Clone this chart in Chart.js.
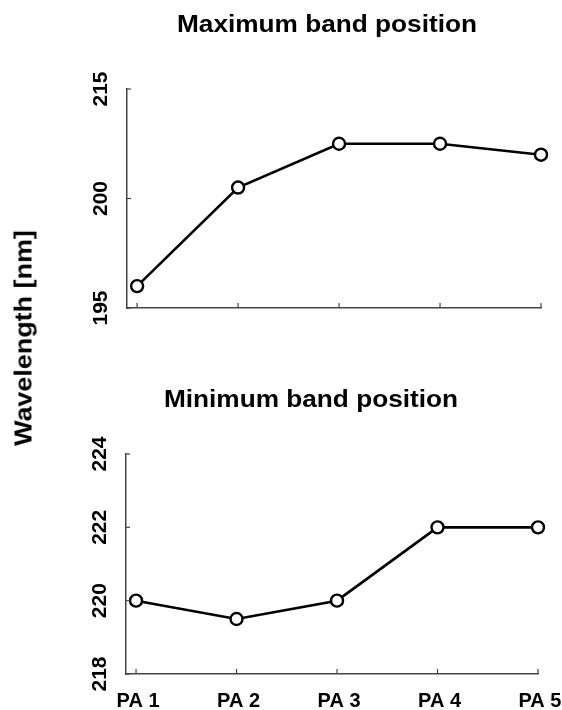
<!DOCTYPE html>
<html lang="en">
<head>
  <meta charset="UTF-8">
  <title>Band positions</title>
  <script src="https://cdn.jsdelivr.net/npm/chart.js"></script>
  <style>
    body {
      margin: 0;
      background: #fff;
      font-family: 'Liberation Sans', Arial, sans-serif;
    }
    .wrap {
      position: relative;
      width: 562px;
      height: 710px;
      overflow: hidden;
    }
    canvas {
      position: absolute;
      left: 0;
    }
    .title, .ylab {
      position: absolute;
      font-weight: bold;
      font-size: 23px;
      line-height: 23px;
      white-space: nowrap;
      color: #000;
    }
    .title {
      transform: translateX(-50%) scaleX(1.14);
    }
    .ylab {
      left: 24px;
      top: 338px;
      transform: translate(-50%, -50%) rotate(-90deg) scaleX(1.17);
    }
  </style>
</head>
<body>
  <div class="wrap">
    <canvas id="maxChart" width="562" height="340" style="top:0"></canvas>
    <canvas id="minChart" width="562" height="370" style="top:340px"></canvas>
    <div class="title" style="left:327px; top:13px">Maximum band position</div>
    <div class="title" style="left:311px; top:388px">Minimum band position</div>
    <div class="ylab">Wavelength [nm]</div>
  </div>

  <script>
    // data
    const categories = ['PA 1', 'PA 2', 'PA 3', 'PA 4', 'PA 5'];
    const xPositions = [1, 2, 3, 4, 5];
    const maxBand = [196, 200.5, 202.5, 202.5, 202];
    const minBand = [220, 219.5, 220, 222, 222];

    const maxTicks = [195, 200, 205];
    const maxTickLabels = ['195', '200', '215'];
    const minTicks = [218, 220, 222, 224];
    const minTickLabels = ['218', '220', '222', '224'];

    const X_FONT = 'bold 20px "Liberation Sans", Arial, sans-serif';
    const Y_FONT = 'bold 21px "Liberation Sans", Arial, sans-serif';

    // inward tick marks + labels drawn at the scale positions
    const axisDecor = {
      id: 'axisDecor',
      afterDraw(chart, args, opts) {
        const ctx = chart.ctx;
        const xs = chart.scales.x, ys = chart.scales.y;
        const area = chart.chartArea;
        ctx.save();
        ctx.strokeStyle = '#444';
        ctx.lineWidth = 1.2;
        ctx.fillStyle = '#000';
        // x ticks
        ctx.font = X_FONT;
        xPositions.forEach((v, i) => {
          const px = xs.getPixelForValue(v);
          ctx.beginPath();
          ctx.moveTo(px, area.bottom);
          ctx.lineTo(px, area.bottom - 5);
          ctx.stroke();
          if (opts.xLabels) {
            ctx.textAlign = 'center';
            ctx.textBaseline = 'middle';
            ctx.fillText(categories[i], px + 2, area.bottom + 27);
          }
        });
        // y ticks
        ctx.font = Y_FONT;
        opts.ticks.forEach((v, i) => {
          const py = ys.getPixelForValue(v);
          ctx.beginPath();
          ctx.moveTo(area.left, py);
          ctx.lineTo(area.left + 4, py);
          ctx.stroke();
          ctx.save();
          ctx.translate(area.left - 26, py);
          ctx.rotate(-Math.PI / 2);
          ctx.textAlign = 'center';
          ctx.textBaseline = 'middle';
          ctx.fillText(opts.labels[i], 0, 0);
          ctx.restore();
        });
        ctx.restore();
      }
    };

    function makeChart(id, values, yMin, yMax, ticks, labels, pad, xLabels) {
      const ctx = document.getElementById(id).getContext('2d');
      return new Chart(ctx, {
        type: 'line',
        data: {
          datasets: [{
            data: xPositions.map((x, i) => ({ x: x, y: values[i] })),
            borderColor: '#000',
            borderWidth: 2.6,
            pointRadius: 6,
            pointBorderWidth: 2.4,
            pointBorderColor: '#000',
            pointBackgroundColor: '#fff',
            clip: false,
            tension: 0
          }]
        },
        options: {
          responsive: false,
          animation: false,
          layout: { padding: pad },
          plugins: {
            legend: { display: false },
            tooltip: { enabled: false },
            axisDecor: { ticks: ticks, labels: labels, xLabels: xLabels }
          },
          scales: {
            x: {
              type: 'linear',
              min: 0.9,
              max: 5,
              afterBuildTicks: s => { s.ticks = xPositions.map(v => ({ value: v })); },
              ticks: { display: false },
              grid: { display: false, drawTicks: false },
              border: { display: true, color: '#444', width: 1.5 }
            },
            y: {
              min: yMin,
              max: yMax,
              afterBuildTicks: s => { s.ticks = ticks.map(v => ({ value: v })); },
              ticks: { display: false },
              grid: { display: false, drawTicks: false },
              border: { display: true, color: '#444', width: 1.5 }
            }
          }
        },
        plugins: [axisDecor]
      });
    }

    makeChart('maxChart', maxBand, 195, 205, maxTicks, maxTickLabels,
      { left: 127, right: 21, top: 89, bottom: 32 }, false);
    makeChart('minChart', minBand, 218, 224, minTicks, minTickLabels,
      { left: 126, right: 24, top: 114, bottom: 36 }, true);
  </script>
</body>
</html>
